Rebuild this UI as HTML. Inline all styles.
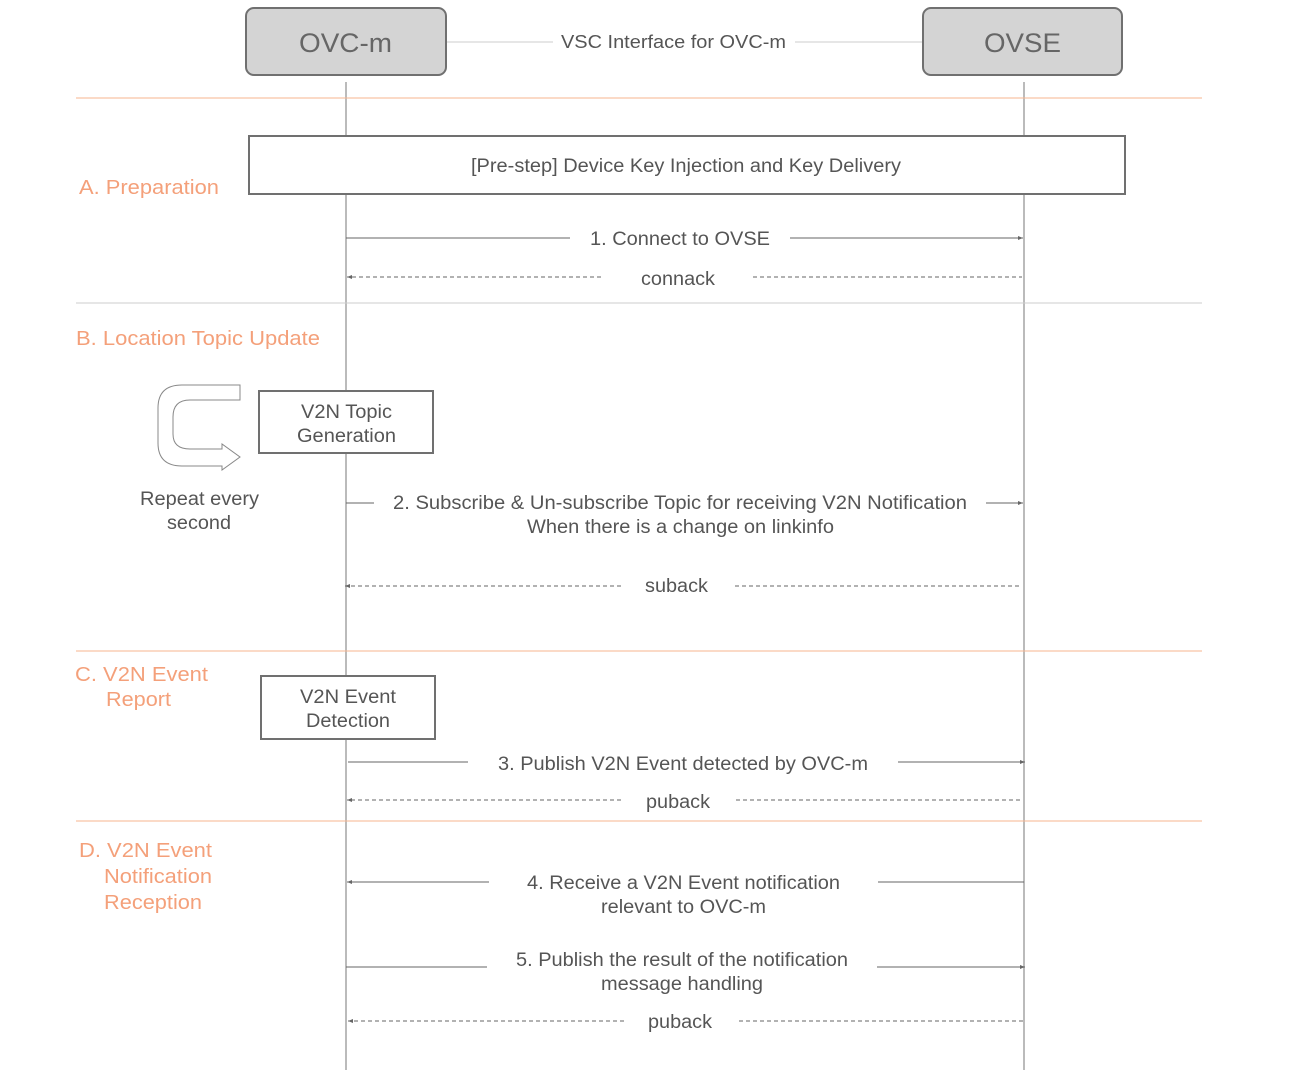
<!DOCTYPE html>
<html><head><meta charset="utf-8"><style>
body{margin:0;background:#fff;}
svg text{font-family:"Liberation Sans",sans-serif;}
</style></head><body>
<svg width="1292" height="1083" viewBox="0 0 1292 1083" xmlns="http://www.w3.org/2000/svg">
<defs>
<marker id="ah" markerWidth="6" markerHeight="6" refX="5" refY="3" orient="auto" markerUnits="userSpaceOnUse"><path d="M0,1 L5,3 L0,5 Z" fill="#666"/></marker>
</defs>
<line x1="346" y1="82" x2="346" y2="1070" stroke="#777" stroke-width="1"/>
<line x1="1024" y1="82" x2="1024" y2="1070" stroke="#777" stroke-width="1"/>
<rect x="246" y="8" width="200" height="67" rx="8" fill="#d4d4d4" stroke="#707070" stroke-width="2"/>
<text x="299" y="52" font-size="27" fill="#666" textLength="93" lengthAdjust="spacingAndGlyphs">OVC-m</text>
<rect x="923" y="8" width="199" height="67" rx="8" fill="#d4d4d4" stroke="#707070" stroke-width="2"/>
<text x="984" y="52" font-size="27" fill="#666" textLength="77" lengthAdjust="spacingAndGlyphs">OVSE</text>
<line x1="447" y1="42" x2="553" y2="42" stroke="#ccc"/>
<line x1="795" y1="42" x2="922" y2="42" stroke="#ccc"/>
<text x="561" y="48" font-size="18" fill="#555" textLength="225" lengthAdjust="spacingAndGlyphs">VSC Interface for OVC-m</text>
<g stroke-width="1">
<line x1="76" y1="98" x2="1202" y2="98" stroke="#f7b58f"/>
<line x1="76" y1="303" x2="1202" y2="303" stroke="#ccc"/>
<line x1="76" y1="651" x2="1202" y2="651" stroke="#f7b58f"/>
<line x1="76" y1="821" x2="1202" y2="821" stroke="#f7b58f"/>
</g>
<g font-size="20" fill="#f4a07a" lengthAdjust="spacingAndGlyphs">
<text x="79" y="194" textLength="140" lengthAdjust="spacingAndGlyphs">A. Preparation</text>
<text x="76" y="345" textLength="244" lengthAdjust="spacingAndGlyphs">B. Location Topic Update</text>
<text x="75" y="681" textLength="133" lengthAdjust="spacingAndGlyphs">C. V2N Event</text>
<text x="106" y="706" textLength="65" lengthAdjust="spacingAndGlyphs">Report</text>
<text x="79" y="857" textLength="133" lengthAdjust="spacingAndGlyphs">D. V2N Event</text>
<text x="104" y="883" textLength="108" lengthAdjust="spacingAndGlyphs">Notification</text>
<text x="104" y="909" textLength="98" lengthAdjust="spacingAndGlyphs">Reception</text>
</g>
<rect x="249" y="136" width="876" height="58" fill="#fff" stroke="#707070" stroke-width="2"/>
<text x="471" y="172" font-size="19" fill="#555" textLength="430" lengthAdjust="spacingAndGlyphs">[Pre-step] Device Key Injection and Key Delivery</text>
<g stroke="#666" stroke-width="1" fill="none">
<line x1="346" y1="238" x2="570" y2="238"/><line x1="790" y1="238" x2="1023" y2="238" marker-end="url(#ah)"/>
<line x1="601" y1="277" x2="347" y2="277" stroke-dasharray="4,3" marker-end="url(#ah)"/><line x1="753" y1="277" x2="1022" y2="277" stroke-dasharray="4,3"/>
<line x1="346" y1="503" x2="374" y2="503"/><line x1="986" y1="503" x2="1023" y2="503" marker-end="url(#ah)"/>
<line x1="621" y1="586" x2="345" y2="586" stroke-dasharray="4,3" marker-end="url(#ah)"/><line x1="735" y1="586" x2="1020" y2="586" stroke-dasharray="4,3"/>
<line x1="348" y1="762" x2="468" y2="762"/><line x1="898" y1="762" x2="1025" y2="762" marker-end="url(#ah)"/>
<line x1="621" y1="800" x2="347" y2="800" stroke-dasharray="4,3" marker-end="url(#ah)"/><line x1="736" y1="800" x2="1021" y2="800" stroke-dasharray="4,3"/>
<line x1="489" y1="882" x2="347" y2="882" marker-end="url(#ah)"/><line x1="878" y1="882" x2="1024" y2="882"/>
<line x1="346" y1="967" x2="487" y2="967"/><line x1="877" y1="967" x2="1025" y2="967" marker-end="url(#ah)"/>
<line x1="624" y1="1021" x2="348" y2="1021" stroke-dasharray="4,3" marker-end="url(#ah)"/><line x1="739" y1="1021" x2="1023" y2="1021" stroke-dasharray="4,3"/>
</g>
<g font-size="19" fill="#555">
<text x="590" y="245" textLength="180" lengthAdjust="spacingAndGlyphs">1. Connect to OVSE</text>
<text x="641" y="285" textLength="74" lengthAdjust="spacingAndGlyphs">connack</text>
<text x="393" y="509" textLength="574" lengthAdjust="spacingAndGlyphs">2. Subscribe &amp; Un-subscribe Topic for receiving V2N  Notification</text>
<text x="527" y="533" textLength="307" lengthAdjust="spacingAndGlyphs">When there is a change on linkinfo</text>
<text x="645" y="592" textLength="63" lengthAdjust="spacingAndGlyphs">suback</text>
<text x="498" y="770" textLength="370" lengthAdjust="spacingAndGlyphs">3. Publish V2N Event detected by OVC-m</text>
<text x="646" y="808" textLength="64" lengthAdjust="spacingAndGlyphs">puback</text>
<text x="527" y="889" textLength="313" lengthAdjust="spacingAndGlyphs">4. Receive a V2N Event notification</text>
<text x="601" y="913" textLength="165" lengthAdjust="spacingAndGlyphs">relevant to OVC-m</text>
<text x="516" y="966" textLength="332" lengthAdjust="spacingAndGlyphs">5. Publish the result of the notification</text>
<text x="601" y="990" textLength="162" lengthAdjust="spacingAndGlyphs">message handling</text>
<text x="648" y="1028" textLength="64" lengthAdjust="spacingAndGlyphs">puback</text>
</g>
<rect x="259" y="391" width="174" height="62" fill="#fff" stroke="#707070" stroke-width="2"/>
<text x="301" y="418" font-size="19" fill="#555" textLength="91" lengthAdjust="spacingAndGlyphs">V2N Topic</text>
<text x="297" y="442" font-size="19" fill="#555" textLength="99" lengthAdjust="spacingAndGlyphs">Generation</text>
<rect x="261" y="676" width="174" height="63" fill="#fff" stroke="#707070" stroke-width="2"/>
<text x="300" y="703" font-size="19" fill="#555" textLength="96" lengthAdjust="spacingAndGlyphs">V2N Event</text>
<text x="306" y="727" font-size="19" fill="#555" textLength="84" lengthAdjust="spacingAndGlyphs">Detection</text>
<path d="M240,385 L240,400 L190,400 Q173,400 173,417 L173,434 Q173,449 190,449 L222,449 L222,444 L240,457 L222,470 L222,466 L182,466 Q158,466 158,443 L158,408 Q158,385 182,385 Z" fill="#fff" stroke="#888" stroke-width="1"/>
<text x="140" y="505" font-size="19" fill="#555" textLength="119" lengthAdjust="spacingAndGlyphs">Repeat every</text>
<text x="167" y="529" font-size="19" fill="#555" textLength="64" lengthAdjust="spacingAndGlyphs">second</text>
</svg>
</body></html>
